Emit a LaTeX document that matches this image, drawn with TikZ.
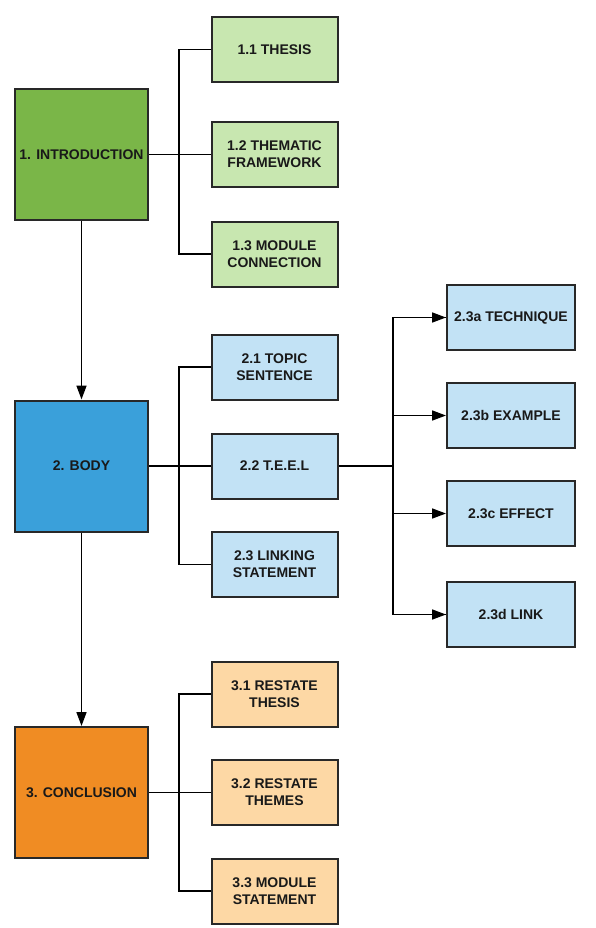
\documentclass[tikz,border=0pt]{standalone}
\usepackage{fontspec}
\setmainfont{Liberation Sans}
\usetikzlibrary{arrows.meta}
\definecolor{gmain}{RGB}{122,182,72}
\definecolor{gsub}{RGB}{200,231,176}
\definecolor{bmain}{RGB}{58,160,218}
\definecolor{bsub}{RGB}{194,226,245}
\definecolor{omain}{RGB}{240,140,35}
\definecolor{osub}{RGB}{253,216,165}
\definecolor{edge}{RGB}{40,40,40}
\definecolor{txt}{RGB}{25,25,25}
\begin{document}
\begin{tikzpicture}[x=1pt,y=-1pt,
  box/.style={draw=edge,line width=2pt,align=center,text=txt,
    font=\fontsize{14}{16.8}\selectfont\bfseries,inner sep=0pt},
  mainbox/.style={box,minimum width=133pt,minimum height=131pt},
  subbox/.style={box,minimum width=126pt,minimum height=65pt},
  rbox/.style={box,minimum width=128pt,minimum height=65pt},
  conn/.style={draw=black,line width=1.6pt},
  arr/.style={conn,-{Triangle[length=14pt,width=10pt]}}]
\useasboundingbox (0,0) rectangle (595,928);
% main boxes
\node[mainbox,fill=gmain] (intro) at (81.5,154.5) {1. INTRODUCTION};
\node[mainbox,fill=bmain] (body) at (81.5,466) {2. BODY};
\node[mainbox,fill=omain] (concl) at (81.5,792.5) {3. CONCLUSION};
% intro subs
\node[subbox,fill=gsub] (t11) at (274.5,49.5) {1.1 THESIS};
\node[subbox,fill=gsub] (t12) at (274.5,154.5) {1.2 THEMATIC\\FRAMEWORK};
\node[subbox,fill=gsub] (t13) at (274.5,254) {1.3 MODULE\\CONNECTION};
% body subs
\node[subbox,fill=bsub] (t21) at (274.5,367) {2.1 TOPIC\\SENTENCE};
\node[subbox,fill=bsub] (t22) at (274.5,466) {2.2 T.E.E.L};
\node[subbox,fill=bsub] (t23) at (274.5,564.5) {2.3 LINKING\\STATEMENT};
% TEEL subs
\node[rbox,fill=bsub] (t23a) at (511,317.5) {2.3a TECHNIQUE};
\node[rbox,fill=bsub] (t23b) at (511,415.5) {2.3b EXAMPLE};
\node[rbox,fill=bsub] (t23c) at (511,513.5) {2.3c EFFECT};
\node[rbox,fill=bsub] (t23d) at (511,614.5) {2.3d LINK};
% conclusion subs
\node[subbox,fill=osub] (t31) at (274.5,694) {3.1 RESTATE\\THESIS};
\node[subbox,fill=osub] (t32) at (274.5,792.5) {3.2 RESTATE\\THEMES};
\node[subbox,fill=osub] (t33) at (274.5,891) {3.3 MODULE\\STATEMENT};
% main flow
\draw[arr] (intro.south) -- (body.north);
\draw[arr] (body.south) -- (concl.north);
% brackets
\draw[conn] (intro.east) -- (t12.west);
\draw[conn] (t11.west) -- ++(-31.5,0) |- (t13.west);
\draw[conn] (body.east) -- (t22.west);
\draw[conn] (t21.west) -- ++(-31.5,0) |- (t23.west);
\draw[conn] (concl.east) -- (t32.west);
\draw[conn] (t31.west) -- ++(-31.5,0) |- (t33.west);
% TEEL
\coordinate (j2) at (393,466);
\draw[conn] (t22.east) -- (j2);
\draw[conn] (j2) |- (t23a.west);
\draw[conn] (j2) |- (t23d.west);
\draw[arr] (j2) ++(0,-148.5) -- (t23a.west);
\draw[arr] (j2) ++(0,-50.5) -- (t23b.west);
\draw[arr] (j2) ++(0,47.5) -- (t23c.west);
\draw[arr] (j2) ++(0,148.5) -- (t23d.west);
\end{tikzpicture}
\end{document}
